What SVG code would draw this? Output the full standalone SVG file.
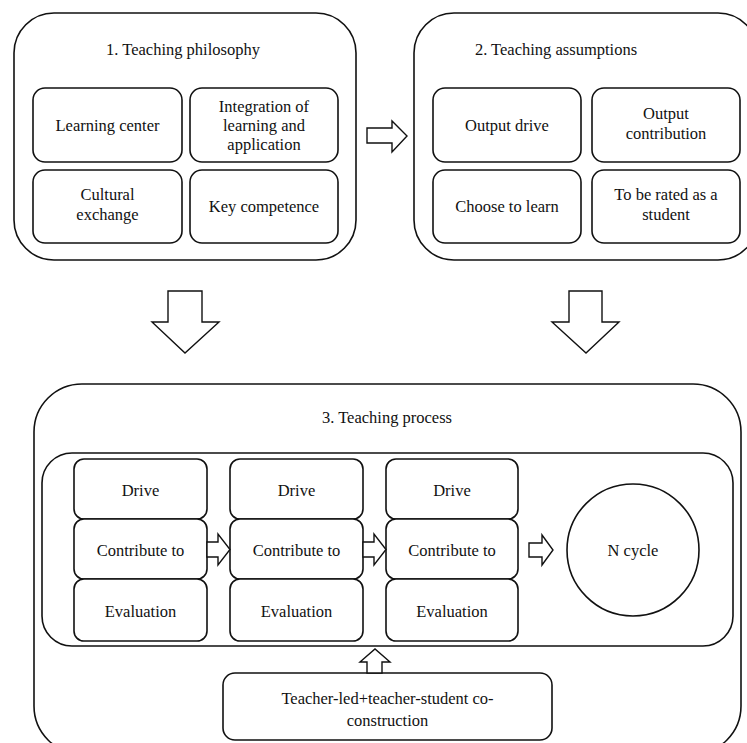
<svg xmlns="http://www.w3.org/2000/svg" width="747" height="743" viewBox="0 0 747 743" font-family="Liberation Serif, DejaVu Serif, serif">
<style>
.box{fill:#fff;stroke:#111;stroke-width:1.6}
.arr{fill:#fff;stroke:#111;stroke-width:1.4;stroke-linejoin:miter}
text{font-size:16.5px;fill:#111;text-anchor:middle}
</style>
<rect width="747" height="743" fill="#fff"/>
<g id="philosophy">
<rect class="box" x="14" y="13" width="342" height="247" rx="40"/>
<text x="183" y="55">1. Teaching philosophy</text>
<g id="learning-center"><rect class="box" x="33" y="88" width="149" height="74" rx="12"/><text x="107.5" y="131">Learning center</text></g>
<g id="integration"><rect class="box" x="190" y="88" width="148" height="74" rx="12"/><text x="264" y="112">Integration of</text><text x="264" y="131">learning and</text><text x="264" y="150">application</text></g>
<g id="cultural-exchange"><rect class="box" x="33" y="170" width="149" height="73" rx="12"/><text x="107.5" y="200">Cultural</text><text x="107.5" y="220">exchange</text></g>
<g id="key-competence"><rect class="box" x="190" y="170" width="148" height="73" rx="12"/><text x="264" y="212">Key competence</text></g>
</g>
<g id="assumptions">
<rect class="box" x="414" y="13" width="344" height="247" rx="40"/>
<text x="556" y="55">2. Teaching assumptions</text>
<g id="output-drive"><rect class="box" x="433" y="88" width="148" height="74" rx="12"/><text x="507" y="131">Output drive</text></g>
<g id="output-contribution"><rect class="box" x="592" y="88" width="148" height="74" rx="12"/><text x="666" y="119">Output</text><text x="666" y="139">contribution</text></g>
<g id="choose-to-learn"><rect class="box" x="433" y="170" width="148" height="73" rx="12"/><text x="507" y="212">Choose to learn</text></g>
<g id="rated-as-student"><rect class="box" x="592" y="170" width="148" height="73" rx="12"/><text x="666" y="200">To be rated as a</text><text x="666" y="220">student</text></g>
</g>
<g id="process">
<rect class="box" x="34" y="384" width="707" height="370" rx="48"/>
<text x="387" y="423">3. Teaching process</text>
<rect class="box" x="42" y="453" width="691" height="193" rx="30"/>
<g id="cycle1">
<rect class="box" x="74" y="459" width="133" height="60" rx="10"/><text x="140.5" y="496">Drive</text>
<rect class="box" x="74" y="519" width="133" height="60" rx="10"/><text x="140.5" y="556">Contribute to</text>
<rect class="box" x="74" y="579" width="133" height="62" rx="10"/><text x="140.5" y="617">Evaluation</text>
</g>
<g id="cycle2">
<rect class="box" x="230" y="459" width="133" height="60" rx="10"/><text x="296.5" y="496">Drive</text>
<rect class="box" x="230" y="519" width="133" height="60" rx="10"/><text x="296.5" y="556">Contribute to</text>
<rect class="box" x="230" y="579" width="133" height="62" rx="10"/><text x="296.5" y="617">Evaluation</text>
</g>
<g id="cycle3">
<rect class="box" x="386" y="459" width="132" height="60" rx="10"/><text x="452" y="496">Drive</text>
<rect class="box" x="386" y="519" width="132" height="60" rx="10"/><text x="452" y="556">Contribute to</text>
<rect class="box" x="386" y="579" width="132" height="62" rx="10"/><text x="452" y="617">Evaluation</text>
</g>
<g id="n-cycle"><circle class="box" cx="633" cy="550" r="66"/><text x="633" y="556">N cycle</text></g>
<g id="teacher-led"><rect class="box" x="223" y="673" width="329" height="67" rx="12"/><text x="387.5" y="704">Teacher-led+teacher-student co-</text><text x="387.5" y="726">construction</text></g>
</g>
<g id="connectors">
<path class="arr" d="M367,128 H392 V121 L407,136 L392,152 V143 H367 Z"/>
<path class="arr" d="M168,291 H202 V322 H219 L185,353 L152,322 H168 Z"/>
<path class="arr" d="M569,291 H602 V322 H619 L586,353 L552,322 H569 Z"/>
<path class="arr" d="M207,542 H218 V534 L230,549.5 L218,565 V557 H207 Z"/>
<path class="arr" d="M363,542 H374 V534 L386,549.5 L374,565 V557 H363 Z"/>
<path class="arr" d="M529,543 H542 V535 L553,550 L542,565 V557 H529 Z"/>
<path class="arr" d="M367,673 V662 H360 L375,649 L390,662 H382 V673 Z"/>
</g>
</svg>
